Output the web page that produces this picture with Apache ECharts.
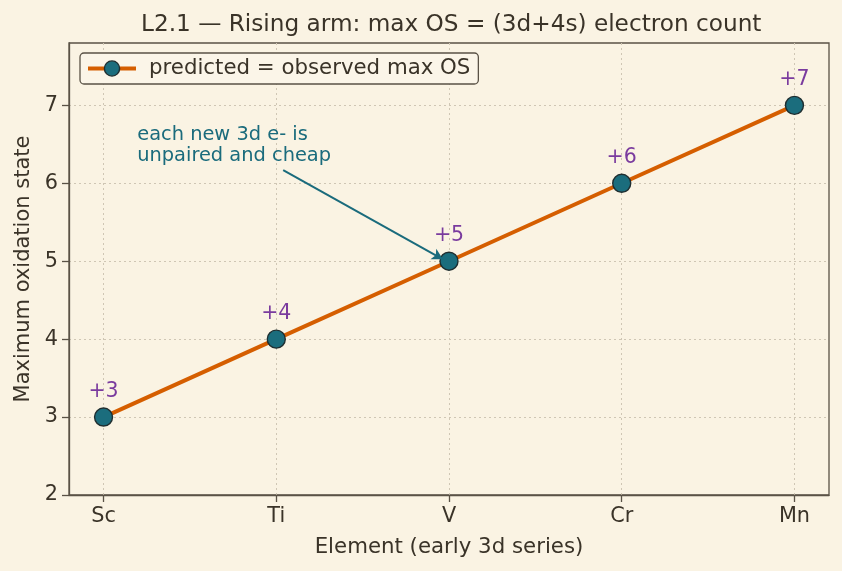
<!DOCTYPE html>
<html>
<head>
<meta charset="utf-8">
<script src="https://cdn.jsdelivr.net/npm/echarts@6/dist/echarts.min.js"></script>
<style>
  html, body { margin: 0; padding: 0; background: #faf3e3; }
  #main { width: 842px; height: 571px; }
</style>
</head>
<body>
<div id="main"></div>
<script>
var elements = ['Sc', 'Ti', 'V', 'Cr', 'Mn'];
var maxOS = [3, 4, 5, 6, 7];
var yTicks = [2, 3, 4, 5, 6, 7];
var noteText = 'each new 3d e- is\nunpaired and cheap';
// arrow start / end and note anchor, in data units
var arrowFrom = [1.04, 6.17];
var arrowTo = [1.965, 5.025];
var noteAt = [0.195, 6.49];

var ink = '#3a3328';
var frame = '#5a5246';
var teal = '#1a6b7c';
var font = 'DejaVu Sans';

var chart = echarts.init(document.getElementById('main'));

var points = [];
for (var i = 0; i < elements.length; i++) {
    points.push([i, maxOS[i]]);
}

var option = {
    backgroundColor: '#faf3e3',
    animation: false,
    textStyle: { fontFamily: font },
    title: {
        text: 'L2.1 — Rising arm: max OS = (3d+4s) electron count',
        left: 136,
        top: 8,
        textStyle: { fontSize: 23.2, fontWeight: 'normal', color: ink, fontFamily: font }
    },
    legend: {
        left: 80,
        top: 53,
        padding: [5, 8, 5, 6],
        borderColor: frame,
        borderWidth: 1.3,
        borderRadius: 4,
        backgroundColor: '#fbf5e8',
        itemWidth: 48,
        itemHeight: 19,
        itemGap: 10,
        lineStyle: { width: 4, color: '#d55e00' },
        itemStyle: { color: '#1b6d7d', borderColor: '#1f2e30', borderWidth: 1.4 },
        textStyle: { fontSize: 21.3, color: ink, fontFamily: font, padding: [0, 0, 0, 8] },
        data: ['predicted = observed max OS']
    },
    grid: {
        left: 69, right: 13, top: 43, bottom: 76,
        show: true,
        borderColor: frame,
        borderWidth: 1.3,
        backgroundColor: '#faf3e3'
    },
    xAxis: {
        type: 'value',
        min: -0.2,
        max: 4.2,
        interval: 1,
        name: 'Element (early 3d series)',
        nameLocation: 'middle',
        nameGap: 42,
        nameTextStyle: { fontSize: 21.3, color: ink },
        axisLine: { show: true, onZero: false, lineStyle: { color: frame, width: 1.3 } },
        axisTick: { show: true, length: 7, lineStyle: { color: frame, width: 1.3 },
            customValues: [0, 1, 2, 3, 4] },
        axisLabel: { fontSize: 20.8, color: ink, margin: 11,
            customValues: [0, 1, 2, 3, 4],
            formatter: function (v) { return elements[Math.round(v)] || ''; } },
        splitLine: { show: true, lineStyle: { color: '#cfc6b4', type: [2, 3], width: 1 } }
    },
    yAxis: {
        type: 'value',
        min: 2,
        max: 7.8,
        interval: 1,
        name: 'Maximum oxidation state',
        nameLocation: 'middle',
        nameGap: 34,
        nameTextStyle: { fontSize: 21, color: ink },
        axisLine: { show: true, onZero: false, lineStyle: { color: frame, width: 1.3 } },
        axisTick: { show: true, length: 7, lineStyle: { color: frame, width: 1.3 },
            customValues: yTicks },
        axisLabel: { fontSize: 20.8, color: ink, margin: 11, customValues: yTicks },
        splitLine: { show: true, lineStyle: { color: '#cfc6b4', type: [2, 3], width: 1 } }
    },
    series: [{
        name: 'predicted = observed max OS',
        type: 'line',
        data: points,
        symbol: 'circle',
        symbolSize: 18,
        lineStyle: { color: '#d55e00', width: 4 },
        itemStyle: { color: '#1b6d7d', borderColor: '#1f2e30', borderWidth: 1.4 },
        label: {
            show: true,
            position: 'top',
            distance: 5,
            fontSize: 20.5,
            color: '#7a3b9e',
            formatter: function (p) { return '+' + p.value[1]; }
        },
        z: 3
    }, {
        // annotation layer drawn above the markers
        name: 'note',
        type: 'line',
        data: [],
        z: 6,
        markLine: {
            silent: true,
            symbol: ['none', 'arrow'],
            symbolSize: [9, 11],
            label: { show: false },
            lineStyle: { color: teal, width: 2, type: 'solid' },
            data: [[{ coord: arrowFrom }, { coord: arrowTo }]]
        },
        markPoint: {
            silent: true,
            symbol: 'circle',
            symbolSize: 0,
            data: [{ coord: noteAt }],
            label: {
                show: true,
                position: 'right',
                distance: 0,
                formatter: noteText,
                color: teal,
                fontSize: 19.4,
                lineHeight: 21,
                align: 'left'
            }
        }
    }]
};

chart.setOption(option);
</script>
</body>
</html>
